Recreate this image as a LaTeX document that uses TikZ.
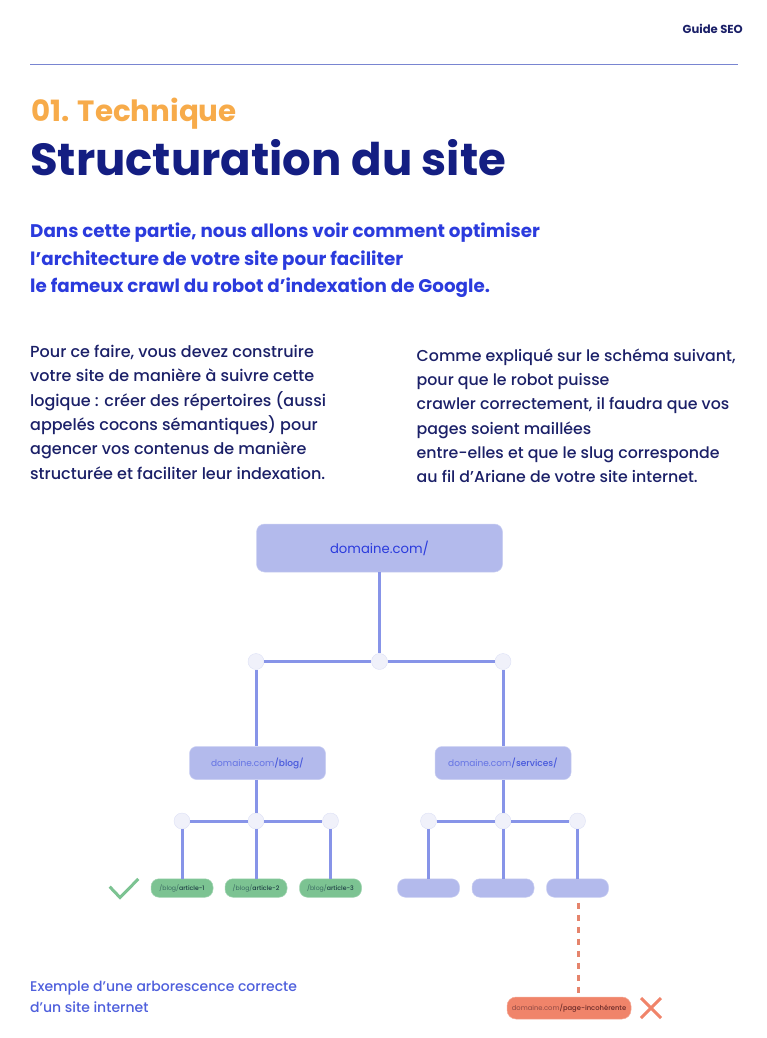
\documentclass[tikz,border=0pt]{standalone}
\usepackage{fontspec}
\setmainfont{Poppins}
\newfontfamily\medfont{Poppins Medium}
\usetikzlibrary{calc}
\definecolor{navy}{HTML}{141E82}
\definecolor{ink}{HTML}{1B2068}
\definecolor{royal}{HTML}{2B3BDD}
\definecolor{capt}{HTML}{4E5FDC}
\definecolor{peach}{HTML}{F7AB4A}
\definecolor{boxfill}{HTML}{B3BAEC}
\definecolor{wire}{HTML}{8794E8}
\definecolor{dotfill}{HTML}{F0F1FA}
\definecolor{okfill}{HTML}{7CC392}
\definecolor{okdim}{HTML}{3A6A62}
\definecolor{okdark}{HTML}{1F3F45}
\definecolor{badfill}{HTML}{F0846A}
\definecolor{baddim}{HTML}{8F4A44}
\definecolor{baddark}{HTML}{6B2A28}
\definecolor{midblue}{HTML}{6473E4}
\tikzset{
  txt/.style={anchor=north west,inner sep=0pt,align=left,text=ink},
  rootbox/.style={fill=boxfill,draw=boxfill!70,line width=.5pt,rounded corners=8pt,minimum width=246pt,minimum height=48pt,inner sep=0pt,text=royal},
  midbox/.style={fill=boxfill,draw=boxfill!70,line width=.5pt,rounded corners=7pt,minimum width=136pt,minimum height=33pt,inner sep=0pt,text=midblue},
  leaf/.style={fill=boxfill,draw=boxfill!70,line width=.5pt,rounded corners=8pt,minimum width=62pt,minimum height=18.5pt,inner sep=0pt},
  okleaf/.style={leaf,fill=okfill,draw=okfill!70,text=okdim},
  badleaf/.style={leaf,fill=badfill,draw=badfill!70,minimum width=124pt,minimum height=22pt,rounded corners=9pt,text=baddim},
  jn/.style={circle,fill=dotfill,draw=boxfill!45,line width=.4pt,minimum size=16pt,inner sep=0pt},
  wired/.style={draw=wire,line width=3pt},
  tick/.style={line width=3pt}
}
\begin{document}
\begin{tikzpicture}[x=1pt,y=-1pt]
  \useasboundingbox (0,0) rectangle (766,1038);
  % header
  \draw[draw=wire!90!black,line width=1pt]
    (30,65) coordinate (ruleL) -- (738,65) coordinate (ruleR);
  \draw
    (743,29) node[anchor=east,inner sep=0pt,text=ink,font=\fontsize{11.6}{13}\selectfont\bfseries] (tag) {Guide SEO}
    (31,114) node[anchor=west,inner sep=0pt,text=peach,font=\fontsize{29.3}{33}\selectfont\bfseries] (part) {01. Technique}
    (30,158) node[anchor=west,inner sep=0pt,text=navy,font=\fontsize{45}{50}\selectfont\bfseries] (title) {Structuration du site}
    (30,223) node[txt,text=royal,font=\fontsize{18.3}{27.5}\selectfont\bfseries] (intro)
      {Dans cette partie, nous allons voir comment optimiser\\l’architecture de votre site pour faciliter\\le fameux crawl du robot d’indexation de Google.}
    (30,345) node[txt,font=\fontsize{16}{24.3}\selectfont\medfont] (left)
      {Pour ce faire, vous devez construire\\votre site de manière à suivre cette\\logique : créer des répertoires (aussi\\appelés cocons sémantiques) pour\\agencer vos contenus de manière\\structurée et faciliter leur indexation.}
    (416.5,348.5) node[txt,font=\fontsize{15.8}{24.3}\selectfont\medfont] (right)
      {Comme expliqué sur le schéma suivant,\\pour que le robot puisse\\crawler correctement, il faudra que vos\\pages soient maillées\\entre-elles et que le slug corresponde\\au fil d’Ariane de votre site internet.}
    (30,980.5) node[txt,text=capt,font=\fontsize{14}{21}\selectfont\medfont] (capt)
      {Exemple d’une arborescence correcte\\d’un site internet};
  % tree
  \draw
    (379.5,548) node[rootbox,font=\fontsize{13.2}{16}\selectfont] (root) {domaine.com/}
    (256,661.5) node[jn] (ja) {} (379.5,661.5) node[jn] (jb) {} (503,661.5) node[jn] (jc) {}
    (257.5,763) node[midbox,font=\fontsize{9}{12}\selectfont] (blog) {domaine.com{\medfont\color{capt!80!royal}/blog/}}
    (503,763) node[midbox,font=\fontsize{9}{12}\selectfont] (serv) {domaine.com{\medfont\color{capt!80!royal}/services/}}
    (182,821) node[jn] (ba) {} (256,821) node[jn] (bb) {} (330.5,821) node[jn] (bc) {}
    (428.5,821) node[jn] (sa) {} (503,821) node[jn] (sb) {} (577.5,821) node[jn] (sc) {}
    (182,888) node[okleaf,font=\fontsize{6.2}{8}\selectfont] (la) {/blog/{\medfont\color{okdark}article-1}}
    (256,888) node[okleaf,font=\fontsize{6.2}{8}\selectfont] (lb) {/blog/{\medfont\color{okdark}article-2}}
    (330.5,888) node[okleaf,font=\fontsize{6.2}{8}\selectfont] (lc) {/blog/{\medfont\color{okdark}article-3}}
    (428.5,888) node[leaf] (ld) {}
    (503,888) node[leaf] (le) {}
    (577.5,888) node[leaf] (lf) {}
    (569,1008) node[badleaf,font=\fontsize{6.8}{9}\selectfont] (bad) {domaine.com{\medfont\color{baddark}/page-incohérente}};
  \draw[wired]
    (root) edge (jb) (ja) edge (jb) (jb) edge (jc)
    (ja) edge (ja |- blog.north) (jc) edge (serv)
    (blog.south -| bb) edge (bb) (ba) edge (bb) (bb) edge (bc)
    (ba) edge (la) (bb) edge (lb) (bc) edge (lc)
    (serv) edge (sb) (sa) edge (sb) (sb) edge (sc)
    (sa) edge (ld) (sb) edge (le) (sc) edge (lf);
  \draw[draw=badfill!90!gray,line width=3pt,dash pattern=on 6.5pt off 5.5pt]
    (lf.south) ++(0.5,5) coordinate (dashA) -- (dashA |- bad.north);
  % marks
  \draw[tick,draw=okfill] (109.7,886.7) coordinate (ca) -- (120,897.5) coordinate (cb) -- (138.3,879) coordinate (cc);
  \draw[tick,draw=badfill]
    (641,998) coordinate (xa) -- (661,1018) coordinate (xb)
    (661,998) coordinate (xc) -- (641,1018) coordinate (xd);
\end{tikzpicture}
\end{document}
